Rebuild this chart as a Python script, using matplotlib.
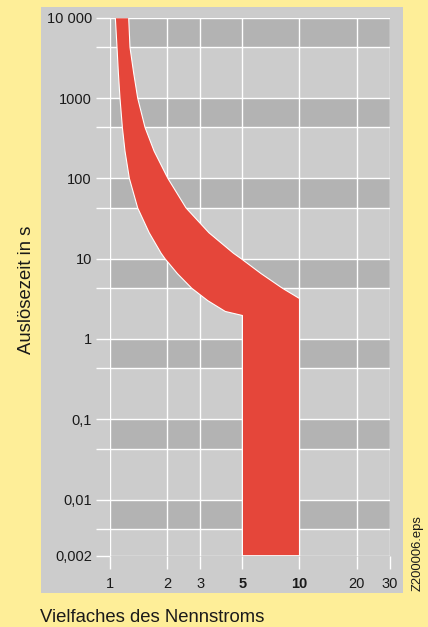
import matplotlib
matplotlib.use("Agg")
import matplotlib.pyplot as plt
from matplotlib.patches import Rectangle

plt.rcParams['font.family'] = ['Liberation Sans', 'DejaVu Sans']

# tripping band (multiple of rated current, time in s)
left_x = [1.067, 1.089, 1.107, 1.129, 1.162, 1.20, 1.265, 1.40, 1.61, 1.86,
          1.95, 2.27, 2.70, 3.28, 4.06, 5.0, 5.0]
left_t = [10000, 4280, 2060, 1000, 432, 218, 100, 42.8, 21, 11.7,
          10, 6.5, 4.28, 3.0, 2.2, 1.96, 0.002]
right_x = [1.255, 1.275, 1.333, 1.40, 1.53, 1.71, 2.02, 2.52, 3.33, 4.48,
           4.92, 6.28, 8.13, 10.0, 10.0]
right_t = [10000, 4280, 2060, 1000, 432, 218, 100, 42.8, 21, 11.7,
           10, 6.5, 4.28, 3.19, 0.002]

x_ticks = [1, 2, 3, 5, 10, 20, 30]
x_labels = ['1', '2', '3', '5', '10', '20', '30']
y_ticks = [10000, 1000, 100, 10, 1, 0.1, 0.01, 0.002]
y_labels = ['10 000', '1000', '100', '10', '1', '0,1', '0,01', '0,002']

# darker stripes below each decade line
band_top = [10000, 1000, 100, 10, 1, 0.1, 0.01]
band_bottom = [4300, 430, 43, 4.3, 0.43, 0.043, 0.0043]

yellow = '#feee98'
panel = '#cccccc'
dark = '#b3b3b3'
red = '#e5463a'

fig = plt.figure(figsize=(4.28, 6.27), dpi=100, facecolor=yellow)
fig.patches.append(Rectangle((0.0958, 0.0542), 0.8458, 0.9346,
                             transform=fig.transFigure, facecolor=panel,
                             edgecolor='none', zorder=-1))

ax = fig.add_axes([0.257, 0.1137, 0.654, 0.858])
ax.set_facecolor(panel)
ax.set_xscale('log')
ax.set_yscale('log')

for lo, hi in zip(band_bottom, band_top):
    ax.axhspan(lo, hi, color=dark, lw=0, zorder=0.2)

xs = left_x + right_x[::-1]
ts = left_t + right_t[::-1]
ax.fill(xs, ts, facecolor=red, edgecolor='white', lw=0.8, zorder=2,
        joinstyle='round')

ax.set_xlim(1, 30)
ax.set_ylim(0.002, 10000)

ax.set_xticks(x_ticks)
ax.set_xticklabels(x_labels)
ax.set_yticks(y_ticks)
ax.set_yticklabels(y_labels)
ax.set_yticks(band_bottom, minor=True)
ax.xaxis.set_minor_locator(matplotlib.ticker.NullLocator())

for lab in ax.get_xticklabels():
    if lab.get_text() in ('5', '10'):
        lab.set_fontweight('bold')

ax.set_axisbelow(True)
ax.grid(True, which='both', color='white', lw=1.0)
ax.tick_params(axis='y', which='both', length=10, width=1.0, color='white',
               pad=3, labelsize=10.5, labelcolor='#1a1a1a')
ax.tick_params(axis='x', which='both', length=9, width=1.0, color='white',
               pad=6.5, labelsize=10.5, labelcolor='#1a1a1a')
for s in ax.spines.values():
    s.set_visible(False)

fig.text(0.0935, 0.0085, 'Vielfaches des Nennstroms', fontsize=13.3,
         ha='left', va='baseline', color='#1a1a1a')
fig.text(0.063, 0.538, 'Auslösezeit in s', fontsize=13.3, rotation=90,
         ha='center', va='center', color='#1a1a1a')
fig.text(0.975, 0.057, 'Z200006.eps', fontsize=9.4, rotation=90,
         ha='center', va='bottom', color='#1a1a1a')

fig.savefig('out.png', dpi=100, facecolor=yellow)
